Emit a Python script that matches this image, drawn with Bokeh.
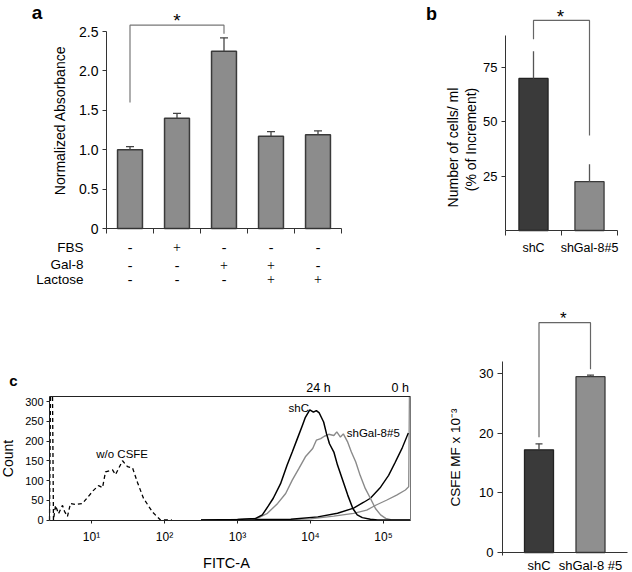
import numpy as np
from bokeh.plotting import figure
from bokeh.models import (ColumnDataSource, FixedTicker, Label, LabelSet, Range1d,
                          LinearAxis, LogAxis)
from bokeh.layouts import row, column
from bokeh.embed import file_html
from bokeh.resources import INLINE

FONT = "Liberation Sans"

# ---------------- data ----------------
# panel a
conditions = ["control", "FBS", "Gal-8", "Gal-8 + Lactose", "Lactose"]
absorbance = [1.00, 1.40, 2.25, 1.17, 1.19]
absorbance_err = [0.04, 0.06, 0.17, 0.06, 0.05]
fbs = ["-", "+", "-", "-", "-"]
gal8 = ["-", "-", "+", "+", "-"]
lactose = ["-", "-", "-", "+", "+"]
table_rows = ["FBS", "Gal-8", "Lactose"]
a_yticks = [0, 0.5, 1, 1.5, 2, 2.5]
a_ytick_labels = ["0", "0.5", "1.0", "1.5", "2.0", "2.5"]
a_sig_pair = (0, 2)
a_sig_low = (1.60, 2.47)
a_sig_top = 2.58

# panel b
b_groups = ["shC", "shGal-8#5"]
b_cells = [70.0, 22.5]
b_cells_err = [12.5, 8.0]
b_yticks = [25, 50, 75]
b_sig_low = (88.0, 43.7)
b_sig_top = 96.7

# panel c (histogram), x in log10(FITC-A)
wo_csfe_log10 = [0.425, 0.438, 0.466, 0.479, 0.507, 0.548, 0.603, 0.630, 0.671, 0.712, 0.781,
                 0.877, 0.945, 1.027, 1.096, 1.151, 1.192, 1.288, 1.329, 1.425, 1.493, 1.562,
                 1.630, 1.712, 1.836, 1.945, 2.1]
wo_csfe_count = [0, 320, 320, 0, 37, 16, 37, 22, 9, 42, 39, 42, 57, 75, 87, 82, 122, 127, 115,
                 150, 135, 132, 95, 55, 20, 0, 0]
shC_24h_log10 = [2.5, 3.0, 3.25, 3.34, 3.42, 3.49, 3.59, 3.68, 3.75, 3.82, 3.89, 3.93, 3.99, 4.04,
                 4.08, 4.12, 4.18, 4.22, 4.26, 4.32, 4.37, 4.44, 4.51, 4.58, 4.64, 4.71, 4.82, 4.92, 5.37]
shC_24h_count = [0, 1, 4, 13, 35, 55, 92, 139, 172, 206, 240, 260, 279, 273, 277, 271, 248, 218,
                 193, 172, 139, 101, 63, 29, 13, 6, 2, 0, 0]
shGal_24h_log10 = [2.5, 3.0, 3.27, 3.41, 3.55, 3.66, 3.75, 3.84, 3.93, 4.03, 4.08, 4.14, 4.19, 4.25,
                   4.32, 4.36, 4.41, 4.45, 4.51, 4.56, 4.62, 4.68, 4.75, 4.82, 4.89, 4.96, 5.03, 5.10, 5.37]
shGal_24h_count = [0, 1, 4, 17, 42, 67, 101, 130, 160, 181, 202, 206, 212, 217, 214, 223, 210, 218,
                   197, 172, 147, 113, 80, 55, 29, 13, 4, 1, 0]
shC_0h_log10 = [2.5, 3.73, 4.10, 4.37, 4.59, 4.73, 4.82, 4.96, 5.07, 5.16, 5.26, 5.34]
shC_0h_count = [0, 2, 8, 17, 30, 45, 55, 83, 113, 146, 184, 220]
shGal_0h_log10 = [2.5, 3.73, 4.0, 4.32, 4.59, 4.77, 4.90, 5.04, 5.18, 5.30, 5.345, 5.355]
shGal_0h_count = [0, 1, 3, 10, 17, 25, 38, 50, 63, 76, 84, 320]
flow_xlim_log10 = (0.425, 5.37)
flow_ylim = (-1.3, 312.7)
flow_yticks = [0, 50, 100, 150, 200, 250, 300]
flow_xticks = [10, 100, 1000, 10000, 100000]
flow_xtick_labels = ["10¹", "10²", "10³", "10⁴", "10⁵"]

# panel c (bars)
c_groups = ["shC", "shGal-8 #5"]
c_csfe = [17.2, 29.45]
c_csfe_err = [1.0, 0.25]
c_yticks = [0, 10, 20, 30]
c_sig_low = (19.3, 30.7)
c_sig_top = 38.5

AX = "#333333"


def make_fig(w, h, xr, yr, **kw):
    p = figure(width=w, height=h, x_range=Range1d(*xr), y_range=Range1d(*yr),
               output_backend="svg", toolbar_location=None,
               min_border_left=0, min_border_right=0, min_border_top=0, min_border_bottom=0, **kw)
    p.grid.visible = False
    p.outline_line_color = None
    p.background_fill_color = "white"
    p.border_fill_color = "white"
    return p


def style_axis(ax, size="13px", color=AX):
    ax.axis_line_color = color
    ax.major_tick_line_color = color
    ax.minor_tick_line_color = color
    ax.major_label_text_font = FONT
    ax.major_label_text_font_size = size
    ax.major_label_text_color = "black"
    ax.major_tick_in = 0
    ax.minor_tick_in = 0


def lab(p, x, y, text, size="13px", align="center", baseline="middle", bold=False, angle=0.0,
        color="black"):
    p.add_layout(Label(x=x, y=y, text=text, text_align=align, text_baseline=baseline,
                       text_font=FONT, text_font_size=size, angle=angle, text_color=color,
                       text_font_style="bold" if bold else "normal"))


# ---------------- panel a ----------------
pa = make_fig(400, 300, (-106 / 47, 294 / 47), (-72 / 78.8, 228 / 78.8))
xa = np.arange(len(conditions)) + 0.5
a_top = np.array(absorbance) + np.array(absorbance_err)
pa.vbar(x=xa, top=absorbance, width=0.53, bottom=0, fill_color="#8c8c8c",
        line_color="#3a3a3a", line_width=1.5)
pa.segment(x0=xa, y0=absorbance, x1=xa, y1=a_top, line_color="#444444", line_width=1.3)
pa.scatter(x=xa, y=a_top, marker="dash", size=8, line_color="#444444", line_width=1.3)
pa.line(x=[xa[a_sig_pair[0]]] * 2 + [xa[a_sig_pair[1]]] * 2,
        y=[a_sig_low[0], a_sig_top, a_sig_top, a_sig_low[1]], line_color="#777777", line_width=1.2)
lab(pa, (xa[a_sig_pair[0]] + xa[a_sig_pair[1]]) / 2, a_sig_top + 0.06, "*", size="19px",
    baseline="alphabetic")
ya = pa.yaxis[0]
ya.fixed_location = 0
ya.ticker = FixedTicker(ticks=a_yticks)
ya.major_label_overrides = dict(zip(a_yticks, a_ytick_labels))
ya.bounds = (0, 2.5)
style_axis(ya, "14px")
ya.minor_tick_line_color = None
ya.major_tick_out = 4
ya.major_label_standoff = 4
xa_ax = pa.xaxis[0]
xa_ax.fixed_location = 0
xa_ax.ticker = FixedTicker(ticks=[], minor_ticks=list(range(len(conditions) + 1)))
xa_ax.bounds = (0, len(conditions))
style_axis(xa_ax)
xa_ax.minor_tick_out = 5
lab(pa, -0.979, 1.371, "Normalized Absorbance", size="14px", angle=np.pi / 2)

row_y = [-0.241, -0.457, -0.647]
tx, ty, tt = [], [], []
for rvals, yy in zip([fbs, gal8, lactose], row_y):
    for xx, s in zip(xa, rvals):
        tx.append(xx)
        ty.append(yy)
        tt.append(s)
pa.add_layout(LabelSet(x="x", y="y", text="t", source=ColumnDataSource(dict(x=tx, y=ty, t=tt)),
                       text_align="center", text_baseline="middle", text_font=FONT,
                       text_font_size="14px", text_color="black"))
for name, yy in zip(table_rows, row_y):
    lab(pa, -0.489, yy, name, size="13.5px", align="right")
lab(pa, -1.479, 2.735, "a", size="19px", bold=True)

# ---------------- panel b ----------------
pb = make_fig(232, 300, (-105 / 56, 127 / 56), (-70 / 2.172, 230 / 2.172))
xb = np.arange(len(b_groups)) + 0.5
b_top = np.array(b_cells) + np.array(b_cells_err)
pb.vbar(x=xb, top=b_cells, width=0.52, bottom=0, fill_color=["#3a3a3a", "#8c8c8c"],
        line_color=["#222222", "#3a3a3a"], line_width=1.3)
pb.segment(x0=xb, y0=b_cells, x1=xb, y1=b_top, line_color="#555555", line_width=1.3)
pb.line(x=[xb[0], xb[0], xb[1], xb[1]],
        y=[b_sig_low[0], b_sig_top, b_sig_top, b_sig_low[1]], line_color="#666666", line_width=1.2)
lab(pb, (xb[0] + xb[1]) / 2 - 0.02, b_sig_top + 1.6, "*", size="19px", baseline="alphabetic")
yb = pb.yaxis[0]
yb.fixed_location = 0
yb.ticker = FixedTicker(ticks=b_yticks)
yb.bounds = (0, 90)
style_axis(yb, "13px")
yb.minor_tick_line_color = None
yb.major_tick_out = 4
yb.major_label_standoff = 4
xb_ax = pb.xaxis[0]
xb_ax.fixed_location = 0
xb_ax.ticker = FixedTicker(ticks=list(xb), minor_ticks=list(range(len(b_groups) + 1)))
xb_ax.major_label_overrides = {float(x): g for x, g in zip(xb, b_groups)}
xb_ax.bounds = (0, len(b_groups))
style_axis(xb_ax, "12.5px")
xb_ax.major_tick_out = 0
xb_ax.minor_tick_out = 5
xb_ax.major_label_standoff = 5
lab(pb, -0.929, 38.2, "Number of cells/ ml", size="14px", angle=np.pi / 2)
lab(pb, -0.625, 41.9, "(% of Increment)", size="14px", angle=np.pi / 2)
lab(pb, -1.321, 99.9, "b", size="18px", bold=True)

# ---------------- panel c: histogram ----------------
pf = figure(width=440, height=272, x_axis_type="log",
            x_range=Range1d(10 ** (1 - 91 / 73), 10 ** (1 + 349 / 73)),
            y_range=Range1d(-52.5 / 0.395, 219.5 / 0.395),
            output_backend="svg", toolbar_location=None,
            min_border_left=0, min_border_right=0, min_border_top=0, min_border_bottom=0)
pf.grid.visible = False
pf.outline_line_color = None
x0f, x1f = 10 ** flow_xlim_log10[0], 10 ** flow_xlim_log10[1]
pf.line(10 ** np.array(wo_csfe_log10), np.minimum(wo_csfe_count, flow_ylim[1]),
        line_color="black", line_width=1.3, line_dash="4 3")
pf.line(10 ** np.array(shGal_0h_log10), np.minimum(shGal_0h_count, flow_ylim[1]),
        line_color="#8a8a8a", line_width=1.3)
pf.line(10 ** np.array(shC_0h_log10), shC_0h_count, line_color="black", line_width=1.4)
pf.line(10 ** np.array(shGal_24h_log10), shGal_24h_count, line_color="#8a8a8a", line_width=1.4)
pf.line(10 ** np.array(shC_24h_log10), shC_24h_count, line_color="black", line_width=1.5)
yf = pf.yaxis[0]
yf.fixed_location = x0f
yf.bounds = flow_ylim
yf.ticker = FixedTicker(ticks=flow_yticks)
style_axis(yf, "11px", "#222222")
yf.minor_tick_line_color = None
yf.major_tick_out = 3
yf.major_label_standoff = 3
xf = pf.xaxis[0]
xf.fixed_location = flow_ylim[0]
xf.bounds = (x0f, x1f)
xf.ticker = FixedTicker(ticks=flow_xticks)
xf.major_label_overrides = dict(zip(flow_xticks, flow_xtick_labels))
style_axis(xf, "12px", "#222222")
xf.minor_tick_line_color = None
xf.major_tick_out = 3
xf.major_label_standoff = 6
top_ax = LogAxis(fixed_location=flow_ylim[1], bounds=(x0f, x1f), ticker=FixedTicker(ticks=[]),
                 axis_line_color="#222222", major_tick_line_color=None, minor_tick_line_color=None)
pf.add_layout(top_ax, "above")
right_ax = LinearAxis(fixed_location=x1f, bounds=flow_ylim, ticker=FixedTicker(ticks=[]),
                      axis_line_color="#777777", major_tick_line_color=None, minor_tick_line_color=None)
pf.add_layout(right_ax, "right")
lab(pf, 10 ** 2.849, -110, "FITC-A", size="14.5px")
lab(pf, 10 ** -0.137, 155.7, "Count", size="14px", angle=np.pi / 2)
lab(pf, 10 ** 1.42, 168, "w/o CSFE", size="11.5px")
lab(pf, 10 ** 3.84, 283, "shC", size="11.5px")
lab(pf, 10 ** 4.86, 219, "shGal-8#5", size="11.5px")
lab(pf, 10 ** 4.11, 333, "24 h", size="12.5px")
lab(pf, 10 ** 5.23, 333, "0 h", size="12.5px")
lab(pf, 10 ** -0.068, 353, "c", size="15px", bold=True)

# ---------------- panel c: bars ----------------
pc = make_fig(192, 272, (1 - 98.5 / 51.5, 1 + 93.5 / 51.5), (-20 / 5.97, 252 / 5.97))
xc = np.arange(len(c_groups)) + 1
c_top = np.array(c_csfe) + np.array(c_csfe_err)
pc.vbar(x=xc, top=c_csfe, width=0.563, bottom=0, fill_color=["#3a3a3a", "#8f8f8f"],
        line_color=["#222222", "#3a3a3a"], line_width=1.3)
pc.segment(x0=xc, y0=c_csfe, x1=xc, y1=c_top, line_color="#444444", line_width=1.3)
pc.scatter(x=xc, y=c_top, marker="dash", size=7, line_color="#444444", line_width=1.3)
pc.line(x=[xc[0], xc[0], xc[1], xc[1]],
        y=[c_sig_low[0], c_sig_top, c_sig_top, c_sig_low[1]], line_color="#666666", line_width=1.2)
lab(pc, (xc[0] + xc[1]) / 2 - 0.03, c_sig_top + 0.65, "*", size="17px", baseline="alphabetic")
c_x0 = 1 - 36.5 / 51.5
yc = pc.yaxis[0]
yc.fixed_location = c_x0
yc.ticker = FixedTicker(ticks=c_yticks)
yc.bounds = (-0.5, 32)
style_axis(yc, "13px")
yc.minor_tick_line_color = None
yc.major_tick_out = 5
yc.major_label_standoff = 4
xc_ax = pc.xaxis[0]
xc_ax.fixed_location = 0
xc_ax.bounds = (c_x0, 1 + 88.5 / 51.5)
xc_ax.ticker = FixedTicker(ticks=[int(x) for x in xc])
xc_ax.major_label_overrides = {int(x): g for x, g in zip(xc, c_groups)}
style_axis(xc_ax, "13px")
xc_ax.minor_tick_line_color = None
xc_ax.major_tick_out = 0
xc_ax.major_label_standoff = 5
lab(pc, -0.621, 15.9, "CSFE MF x 10⁻³", size="13.5px", angle=np.pi / 2)

layout = column(row(pa, pb), row(pf, pc))
open("out.html", "w").write(file_html(layout, INLINE))
